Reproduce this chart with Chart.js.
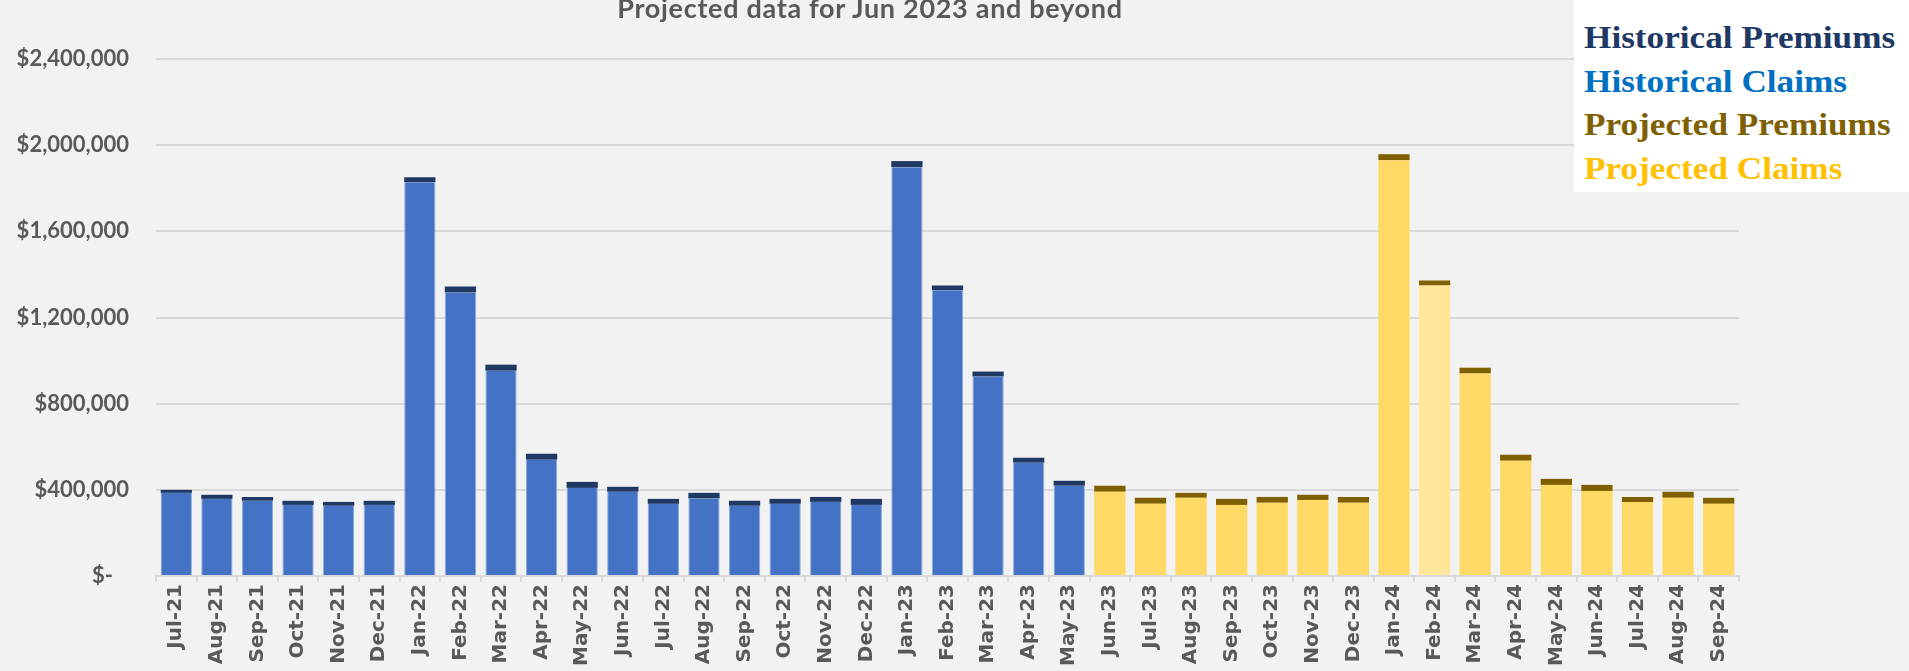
<!DOCTYPE html>
<html>
<head>
<meta charset="utf-8">
<script src="https://cdn.jsdelivr.net/npm/chart.js@4.4.0/dist/chart.umd.min.js"></script>
<style>
  html, body { margin: 0; padding: 0; background: #f2f2f2; }
  #wrap { position: relative; width: 1909px; height: 671px; overflow: hidden; background: #f2f2f2; }
  #title {
    position: absolute; left: 570px; top: -9px; width: 600px; text-align: center; white-space: nowrap;
    font: bold 27px Lato, "Open Sans", sans-serif; color: #595959; line-height: 34px; letter-spacing: 0.7px;
  }
  #legendBox {
    position: absolute; left: 1574px; top: 0; width: 335px; height: 192px; background: #ffffff;
  }
  #legendBox div {
    position: absolute; left: 10px; white-space: nowrap; font: bold 32px "Liberation Serif", "DejaVu Serif", serif;
    transform: scaleX(1.1); transform-origin: left; line-height: 32px;
  }
</style>
</head>
<body>
<div id="wrap">
  <canvas id="myChart"></canvas>
  <div id="title">Projected data for Jun 2023 and beyond</div>
  <div id="legendBox">
    <div style="top:21px;color:#203864">Historical Premiums</div>
    <div style="top:65px;color:#0070c0">Historical Claims</div>
    <div style="top:108px;color:#7f6000">Projected Premiums</div>
    <div style="top:152px;color:#ffc000">Projected Claims</div>
  </div>
</div>
<script>
const months = [
  "Jul-21", "Aug-21", "Sep-21", "Oct-21", "Nov-21", "Dec-21",
  "Jan-22", "Feb-22", "Mar-22", "Apr-22", "May-22", "Jun-22",
  "Jul-22", "Aug-22", "Sep-22", "Oct-22", "Nov-22", "Dec-22",
  "Jan-23", "Feb-23", "Mar-23", "Apr-23", "May-23", "Jun-23",
  "Jul-23", "Aug-23", "Sep-23", "Oct-23", "Nov-23", "Dec-23",
  "Jan-24", "Feb-24", "Mar-24", "Apr-24", "May-24", "Jun-24",
  "Jul-24", "Aug-24", "Sep-24"
];
// Jul-21 .. May-23
const histClaims = [
  386000, 358000, 349000, 330000, 326000, 330000,
  1828000, 1316000, 953000, 540000, 409000, 391000,
  335000, 360000, 326000, 335000, 344000, 330000,
  1898000, 1326000, 926000, 526000, 419000
];
const histPremiums = [
  14000, 19000, 18000, 19000, 18000, 19000,
  23000, 28000, 28000, 27000, 28000, 23000,
  23000, 26000, 23000, 23000, 23000, 28000,
  28000, 23000, 23000, 23000, 23000
];
// Jun-23 .. Sep-24
const projClaims = [
  391000, 335000, 363000, 330000, 340000, 353000, 340000,
  1930000, 1349000, 940000, 535000, 423000, 395000,
  344000, 363000, 335000
];
const projPremiums = [
  28000, 28000, 23000, 28000, 27000, 24000, 27000,
  28000, 23000, 27000, 28000, 28000, 28000,
  23000, 28000, 28000
];
const yTicks = [0, 400000, 800000, 1200000, 1600000, 2000000, 2400000];

const nHist = histClaims.length;
const pad = (arr, before, total) => {
  const out = [];
  for (let i = 0; i < total; i++) {
    const j = i - before;
    out.push(j >= 0 && j < arr.length ? arr[j] : null);
  }
  return out;
};

//Feb-24 claims bar is lighter in the original
const projClaimColors = months.map((m) => (m === "Feb-24" ? "#ffe699" : "#ffd966"));

const gridColor = "#d9d9d9";
const textColor = "#595959";

new Chart("myChart", {
  type: "bar",
  data: {
    labels: months,
    datasets: [
      {
        label: "Historical Claims",
        data: pad(histClaims, 0, months.length),
        backgroundColor: "#4472c4",
        borderColor: "#8faadc",
        borderWidth: { left: 1, right: 1, top: 0, bottom: 0 },
        borderSkipped: false,
      },
      {
        label: "Projected Claims",
        data: pad(projClaims, nHist, months.length),
        backgroundColor: projClaimColors,
      },
      {
        label: "Historical Premiums",
        data: pad(histPremiums, 0, months.length),
        backgroundColor: "#203864",
      },
      {
        label: "Projected Premiums",
        data: pad(projPremiums, nHist, months.length),
        backgroundColor: "#7f6000",
      },
    ],
  },
  options: {
    animation: false,
    responsive: true,
    maintainAspectRatio: false,
    layout: { padding: { top: 59, right: 170, left: 0, bottom: 0 } },
    plugins: {
      legend: { display: false },
      title: { display: false },
      tooltip: { enabled: false },
    },
    datasets: {
      bar: { barPercentage: 0.77, categoryPercentage: 1.0 },
    },
    scales: {
      x: {
        stacked: true,
        afterFit: (scale) => { scale.height = 95; },
        border: { display: true, color: gridColor, width: 2 },
        grid: { display: true, drawOnChartArea: false, drawTicks: true, tickLength: 6, color: gridColor, lineWidth: 2 },
        ticks: {
          autoSkip: false,
          maxRotation: 90,
          minRotation: 90,
          padding: 2,
          color: textColor,
          font: { family: "DejaVu Sans", weight: "bold", size: 20 },
        },
      },
      y: {
        stacked: true,
        min: 0,
        max: 2400000,
        afterFit: (scale) => { scale.width = 156; },
        afterBuildTicks: (scale) => { scale.ticks = yTicks.map((v) => ({ value: v })); },
        border: { display: false },
        grid: { color: gridColor, lineWidth: 2, drawTicks: false },
        ticks: {
          padding: 27,
          color: textColor,
          font: { family: "Lato", weight: "bold", size: 22 },
          callback: function (value) {
            if (value === 0) {
              return "$-   ";
            }
            return "$" + value.toLocaleString("en-US");
          },
        },
      },
    },
  },
});
</script>
</body>
</html>
